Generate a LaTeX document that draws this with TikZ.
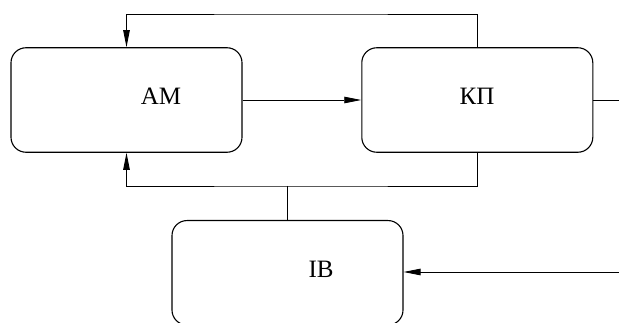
\documentclass[tikz,border=0pt]{standalone}
\usepackage{fontspec}
\setmainfont{Liberation Serif}
\usetikzlibrary{arrows.meta}
\begin{document}
\begin{tikzpicture}[x=1pt,y=-1pt,
  blk/.style={draw, line width=1.1pt, rounded corners=15pt, minimum width=231pt, minimum height=104.5pt, inner sep=0pt},
  lbl/.style={font=\fontsize{25}{25}\selectfont, inner sep=0pt},
  conn/.style={line width=0.9pt},
  arr/.style={conn, -{Triangle[length=17pt,width=6.5pt]}}]
\useasboundingbox (0,0) rectangle (619,323);
\clip (0,0) rectangle (619,323);
\node[blk] (am) at (126.5,100) {};
\node[blk] (kp) at (477.3,100) {};
\node[blk] (ib) at (287.5,272.8) {};
\node[lbl] (amt) at (161,96) {АМ};
\node[lbl] (kpt) at (477,96) {КП};
\node[lbl] (ibt) at (321,269) {ІВ};
\coordinate (top) at (300,14);
\coordinate (bot) at (300,186);
\coordinate (junc) at (ib.north |- bot);
\coordinate (out) at (619,100);
\coordinate (in) at (619,272);
\draw[arr] (kp.north) |- (top) -| (am.north);
\draw[arr] (am.east) -- (kp.west);
\draw[conn] (kp.east) -- (out);
\draw[arr] (kp.south) |- (bot) -| (am.south);
\draw[conn] (junc) -- (ib.north);
\draw[arr] (in) -- (ib.east |- in);
\end{tikzpicture}
\end{document}
